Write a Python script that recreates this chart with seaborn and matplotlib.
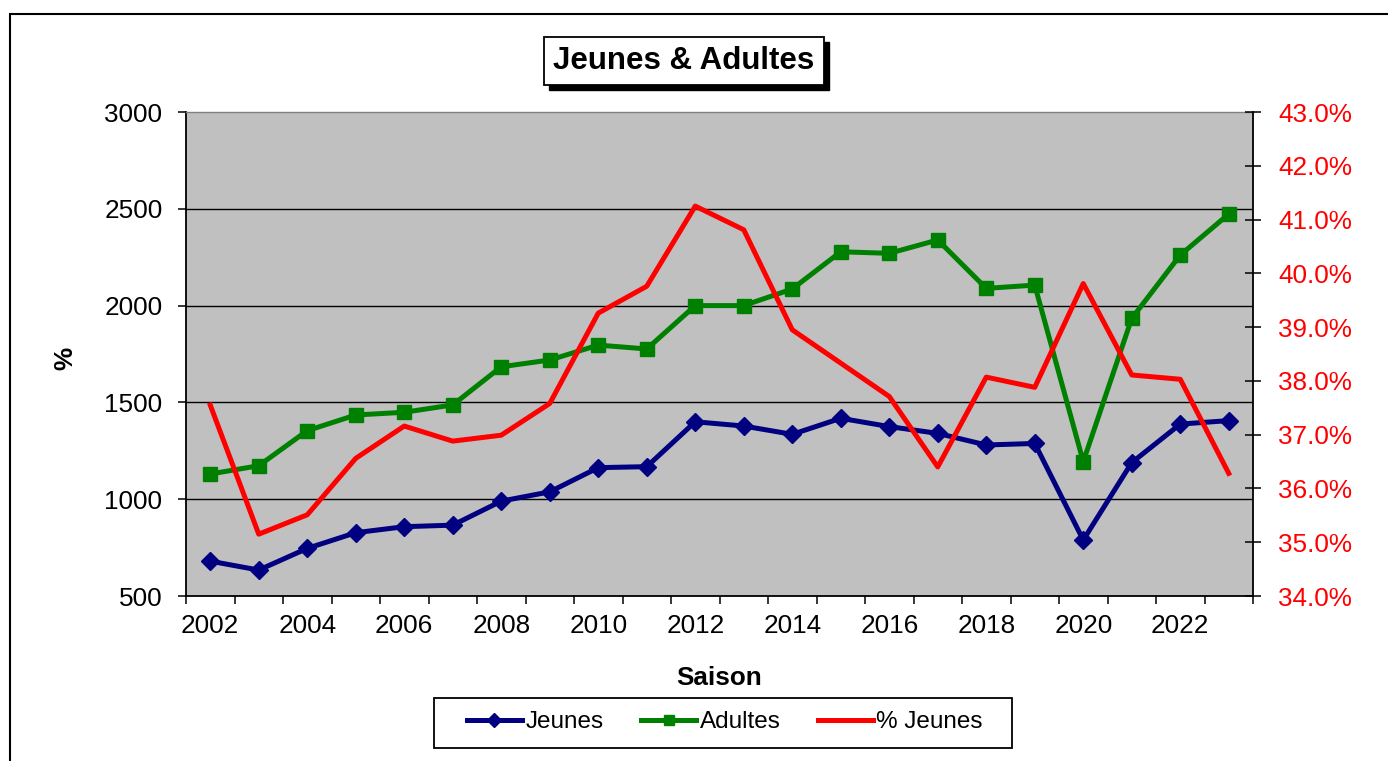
import matplotlib
matplotlib.use("Agg")
import matplotlib.pyplot as plt
import matplotlib.patches as mpatches
from matplotlib.ticker import FixedLocator, FuncFormatter
import seaborn as sns
import numpy as np

# ---- data ----
years = [2002, 2003, 2004, 2005, 2006, 2007, 2008, 2009, 2010, 2011, 2012,
         2013, 2014, 2015, 2016, 2017, 2018, 2019, 2020, 2021, 2022, 2023]
jeunes = [680, 634, 746, 827, 858, 866, 990, 1038, 1163, 1168, 1400,
          1378, 1335, 1418, 1375, 1340, 1280, 1288, 789, 1189, 1388, 1406]
adultes = [1130, 1173, 1354, 1435, 1449, 1487, 1684, 1719, 1796, 1776, 2000,
           2000, 2086, 2278, 2270, 2339, 2089, 2106, 1194, 1934, 2261, 2473]
pct_jeunes = [37.55, 35.15, 35.51, 36.56, 37.16, 36.88, 36.99, 37.58, 39.26, 39.76, 41.25,
              40.81, 38.95, 38.33, 37.71, 36.40, 38.07, 37.88, 39.81, 38.11, 38.03, 36.28]
year_labels = [str(y) for y in range(2002, 2023, 2)]
left_ticks = [500, 1000, 1500, 2000, 2500, 3000]
right_ticks = [34, 35, 36, 37, 38, 39, 40, 41, 42, 43]

plt.rcParams['font.family'] = ['Liberation Sans', 'DejaVu Sans']

W, H = 1388, 761
fig = plt.figure(figsize=(W / 100, H / 100), dpi=100)
fig.patch.set_facecolor('white')

L, R, T, B = 186, 1253, 112, 596
ax = fig.add_axes([L / W, 1 - B / H, (R - L) / W, (B - T) / H])
ax.set_facecolor('#C0C0C0')

navy, green, red = '#000080', '#008000', '#FF0000'

sns.lineplot(x=years, y=jeunes, ax=ax, color=navy, lw=3.6, marker='D', markersize=9.5,
             markeredgecolor=navy, markerfacecolor=navy, markeredgewidth=1, label='Jeunes',
             zorder=4)
sns.lineplot(x=years, y=adultes, ax=ax, color=green, lw=3.6, marker='s', markersize=10.5,
             markeredgecolor=green, markerfacecolor=green, markeredgewidth=1, label='Adultes',
             zorder=4)

ax.set_xlim(2001.5, 2023.5)
ax.set_ylim(500, 3000)
ax.set_yticks(left_ticks)
ax.set_yticklabels([str(v) for v in left_ticks])
for v in left_ticks[1:-1]:
    ax.axhline(v, color='black', lw=1.0, zorder=1)

ax.xaxis.set_major_locator(FixedLocator(list(range(2002, 2023, 2))))
ax.set_xticklabels(year_labels)
ax.xaxis.set_minor_locator(FixedLocator(list(np.arange(2001.5, 2024, 1.0))))
ax.tick_params(axis='x', which='major', length=0, pad=13, labelsize=18.8, colors='black')
ax.tick_params(axis='x', which='minor', length=6, width=1.1, direction='out', color='black')
ax.tick_params(axis='y', which='major', length=6, width=1.1, direction='out', pad=11,
               labelsize=18.8, colors='black')

for s in ['left', 'bottom']:
    ax.spines[s].set_color('black')
    ax.spines[s].set_linewidth(1.3)
ax.spines['top'].set_color('#808080')
ax.spines['top'].set_linewidth(1.0)
ax.spines['right'].set_visible(False)

ax.set_xlabel('Saison', fontsize=18.8, fontweight='bold')
ax.set_ylabel('%', fontsize=18.8, fontweight='bold')
ax.xaxis.label.set_va('center')
ax.xaxis.set_label_coords(0.5, (B - 678) / (B - T))
ax.yaxis.label.set_va('center')
ax.yaxis.set_label_coords((65 - L) / (R - L), (B - 358) / (B - T))

ax2 = ax.twinx()
sns.lineplot(x=years, y=pct_jeunes, ax=ax2, color=red, lw=3.6, label='% Jeunes', zorder=3)
ax2.set_ylim(34, 43)
ax2.set_yticks(right_ticks)
ax2.yaxis.set_major_formatter(FuncFormatter(lambda v, p: f"{v:.1f}%"))
ax2.tick_params(axis='y', which='major', length=12, width=1.1, direction='inout', pad=12,
                labelsize=18.8, labelcolor=red, color='black')
ax2.spines['right'].set_color('black')
ax2.spines['right'].set_linewidth(1.3)
for s in ['left', 'top', 'bottom']:
    ax2.spines[s].set_visible(False)
ax2.set_ylabel('')
ax2.set_xlim(2001.5, 2023.5)

h1, l1 = ax.get_legend_handles_labels()
h2, l2 = ax2.get_legend_handles_labels()
if ax.get_legend():
    ax.get_legend().remove()
if ax2.get_legend():
    ax2.get_legend().remove()

leg = fig.legend(h1 + h2, l1 + l2, loc='center', bbox_to_anchor=(725 / W, 1 - 722 / H),
                 ncol=3, frameon=False, fontsize=17.5, handlelength=2.25,
                 handletextpad=0.15, columnspacing=1.55, numpoints=1)
for lh in leg.get_lines():
    lh.set_markersize(7.5)

# legend box
fig.add_artist(mpatches.Rectangle((434 / W, 1 - 748 / H), (1012 - 434) / W, 50 / H,
                                  transform=fig.transFigure, fill=False, edgecolor='black',
                                  lw=1.3, zorder=0))

# title with shadow box
tx, ty = 683.5 / W, 1 - 61 / H
title = fig.text(tx, ty, 'Jeunes & Adultes', fontsize=22.5, fontweight='bold', color='black',
                 ha='center', va='center', zorder=5,
                 bbox=dict(boxstyle='square,pad=0.3', facecolor='white', edgecolor='black',
                           lw=1.3))
fig.canvas.draw()
bb = title.get_bbox_patch().get_window_extent(fig.canvas.get_renderer())
fig.add_artist(mpatches.Rectangle(((bb.x0 + 5) / W, (bb.y0 - 5) / H), bb.width / W,
                                  bb.height / H, transform=fig.transFigure,
                                  facecolor='black', edgecolor='black', zorder=1))

# outer chart border
fig.add_artist(mpatches.Rectangle((10 / W, -0.1), 1.2, (1 - 14 / H) + 0.1,
                                  transform=fig.transFigure, fill=False, edgecolor='black',
                                  lw=1.5, clip_on=False))

fig.savefig('out.png', dpi=100)
